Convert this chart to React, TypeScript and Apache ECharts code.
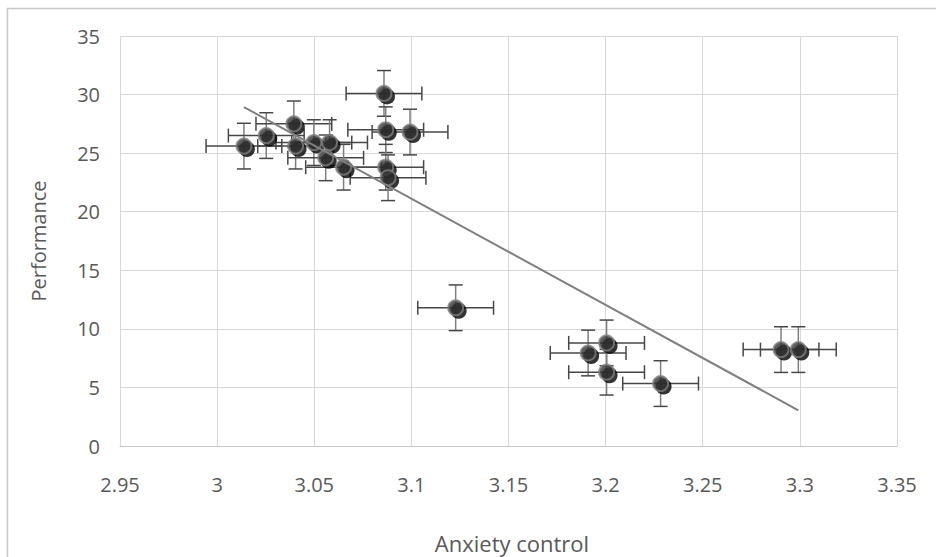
import React, { useEffect, useRef } from "react";
import * as echarts from "echarts";

// Observed group means
const anxietyControl = [
  3.0138, 3.0253, 3.0395, 3.0404, 3.0498, 3.0579, 3.0559, 3.0651, 3.0859, 3.0868,
  3.0993, 3.0868, 3.088, 3.1228, 3.191, 3.2005, 3.2005, 3.2283, 3.2903, 3.2992,
];
const performance = [
  25.6, 26.5, 27.5, 25.6, 25.9, 25.9, 24.6, 23.8, 30.1, 27.0,
  26.8, 23.8, 22.9, 11.8, 7.94, 8.8, 6.3, 5.33, 8.23, 8.23,
];
// Error bar half-widths
const anxietyError = 0.0195;
const performanceError = 1.95;

const xTicks = { min: 2.95, max: 3.35, interval: 0.05 };
const yTicks = { min: 0, max: 35, interval: 5 };

const FONT = "'Open Sans', 'Noto Sans', sans-serif";
const TEXT_COLOR = "#595959";

function linearFit(xs: number[], ys: number[]) {
  const n = xs.length;
  const mx = xs.reduce((a, b) => a + b, 0) / n;
  const my = ys.reduce((a, b) => a + b, 0) / n;
  let sxy = 0;
  let sxx = 0;
  for (let i = 0; i < n; i++) {
    sxy += (xs[i] - mx) * (ys[i] - my);
    sxx += (xs[i] - mx) * (xs[i] - mx);
  }
  const slope = sxy / sxx;
  return (x: number) => my + slope * (x - mx);
}

export default function App() {
  const ref = useRef<HTMLDivElement>(null);

  useEffect(() => {
    if (!ref.current) return;
    const chart = echarts.init(ref.current, undefined, { renderer: "svg" });

    const points = anxietyControl.map((x, i) => [x, performance[i]]);
    const fit = linearFit(anxietyControl, performance);
    const xLo = Math.min(...anxietyControl);
    const xHi = Math.max(...anxietyControl);
    const trend = [
      [xLo, fit(xLo)],
      [xHi, fit(xHi)],
    ];

    chart.setOption({
      animation: false,
      backgroundColor: "#ffffff",
      grid: { left: 120, top: 36, width: 777, height: 410 },
      xAxis: {
        type: "value",
        min: xTicks.min,
        max: xTicks.max,
        interval: xTicks.interval,
        axisLine: { show: true, lineStyle: { color: "#c6c6c6", width: 1 } },
        axisTick: { show: false },
        splitLine: { show: true, lineStyle: { color: "#d9d9d9", width: 1 } },
        axisLabel: {
          margin: 28,
          color: TEXT_COLOR,
          fontFamily: FONT,
          fontSize: 20,
          formatter: (v: number) => String(parseFloat(v.toFixed(2))),
        },
      },
      yAxis: {
        type: "value",
        min: yTicks.min,
        max: yTicks.max,
        interval: yTicks.interval,
        axisLine: { show: false },
        axisTick: { show: false },
        splitLine: { show: true, lineStyle: { color: "#d9d9d9", width: 1 } },
        axisLabel: {
          margin: 20,
          color: TEXT_COLOR,
          fontFamily: FONT,
          fontSize: 20,
        },
      },
      graphic: [
        {
          type: "rect",
          silent: true,
          shape: { x: 7.5, y: 8.5, width: 940, height: 560 },
          style: { fill: "none", stroke: "#c8c8c8", lineWidth: 1.5 },
          z: -1,
        },
        {
          type: "text",
          x: 38,
          y: 241,
          rotation: Math.PI / 2,
          style: {
            text: "Performance",
            fill: TEXT_COLOR,
            font: `20px ${FONT}`,
            align: "center",
            verticalAlign: "middle",
          },
        },
        {
          type: "text",
          x: 512,
          y: 543,
          style: {
            text: "Anxiety control",
            fill: TEXT_COLOR,
            font: `22px ${FONT}`,
            align: "center",
            verticalAlign: "middle",
          },
        },
      ],
      series: [
        {
          type: "custom",
          name: "error bars",
          z: 1,
          silent: true,
          data: points,
          renderItem: (_params: any, api: any) => {
            const x = api.value(0);
            const y = api.value(1);
            const c = api.coord([x, y]);
            const l = api.coord([x - anxietyError, y]);
            const r = api.coord([x + anxietyError, y]);
            const t = api.coord([x, y + performanceError]);
            const b = api.coord([x, y - performanceError]);
            const cap = 7;
            const dark = { stroke: "#474747", lineWidth: 1.5 };
            const light = { stroke: "#7f7f7f", lineWidth: 1.5 };
            return {
              type: "group",
              children: [
                { type: "line", shape: { x1: l[0], y1: c[1], x2: r[0], y2: c[1] }, style: dark },
                { type: "line", shape: { x1: l[0], y1: c[1] - cap, x2: l[0], y2: c[1] + cap }, style: dark },
                { type: "line", shape: { x1: r[0], y1: c[1] - cap, x2: r[0], y2: c[1] + cap }, style: dark },
                { type: "line", shape: { x1: c[0], y1: t[1], x2: c[0], y2: b[1] }, style: light },
                { type: "line", shape: { x1: c[0] - cap, y1: t[1], x2: c[0] + cap, y2: t[1] }, style: dark },
                { type: "line", shape: { x1: c[0] - cap, y1: b[1], x2: c[0] + cap, y2: b[1] }, style: dark },
              ],
            };
          },
        },
        {
          type: "scatter",
          name: "shadow",
          z: 2,
          silent: true,
          symbol: "circle",
          symbolSize: 16,
          symbolOffset: [3, 3],
          itemStyle: { color: "#000000" },
          data: points,
        },
        {
          type: "scatter",
          name: "Performance",
          z: 3,
          symbol: "circle",
          symbolSize: 15,
          itemStyle: { color: "#333333", borderColor: "#808080", borderWidth: 2 },
          data: points,
        },
        {
          type: "line",
          name: "Linear trend",
          z: 4,
          showSymbol: false,
          silent: true,
          lineStyle: { color: "#808080", width: 2 },
          data: trend,
        },
      ],
    });

    return () => chart.dispose();
  }, []);

  return (
    <div
      ref={ref}
      style={{ position: "fixed", left: 0, top: 0, width: 936, height: 557 }}
    />
  );
}
